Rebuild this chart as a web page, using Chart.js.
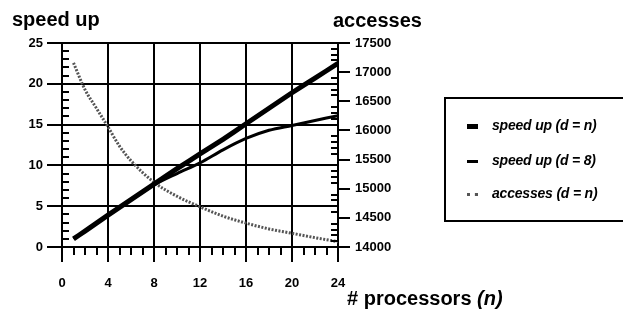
<!DOCTYPE html>
<html>
<head>
<meta charset="utf-8">
<script src="https://cdn.jsdelivr.net/npm/chart.js@4/dist/chart.umd.min.js"></script>
<style>
  body { margin: 0; background: #fff; font-family: "Liberation Sans", Arial, sans-serif; }
  #wrap { position: relative; width: 623px; height: 310px; overflow: hidden; }
  #legend {
    position: absolute; left: 444px; top: 97px; width: 240px; height: 121px;
    border: 2px solid #000; box-sizing: content-box;
  }
  .item { position: absolute; left: 21px; font: italic bold 14px "Liberation Sans", Arial, sans-serif; letter-spacing: -0.2px; }
  .sw { display: inline-block; width: 11px; margin-right: 14px; vertical-align: middle; }
</style>
</head>
<body>
<div id="wrap">
  <canvas id="myChart" width="623" height="310"></canvas>
  <div id="legend">
    <div class="item" style="top:18px"><span class="sw" style="border-top:5px solid #000"></span>speed up (d = n)</div>
    <div class="item" style="top:53px"><span class="sw" style="border-top:3px solid #000"></span>speed up (d = 8)</div>
    <div class="item" style="top:86px"><span class="sw" style="border-top:3px dotted #555"></span>accesses (d = n)</div>
  </div>
</div>
<script>
/* DONNEES */
const nSpeed = [1, 2, 4, 6, 8, 10, 12, 14, 16, 18, 20, 22, 24];
const speedUpN = [1.0, 1.95, 3.9, 5.8, 7.7, 9.6, 11.4, 13.2, 15.1, 17.0, 18.9, 20.7, 22.5];
const speedUp8 = [1.0, 1.95, 3.9, 5.8, 7.6, 9.0, 10.3, 11.9, 13.3, 14.3, 14.9, 15.5, 16.1];
const nAccess = [1, 2, 3, 4, 5, 6, 8, 10, 12, 14, 16, 18, 20, 22, 24];
const accesses = [17160, 16700, 16380, 16060, 15730, 15480, 15110, 14870, 14690, 14530, 14410, 14310, 14235, 14160, 14090];
const xTicks = [0, 4, 8, 12, 16, 20, 24];

const pts = (xs, ys) => xs.map((x, i) => ({ x: x, y: ys[i] }));
const FONT = { family: '"Liberation Sans", Arial, sans-serif', size: 13, weight: 'bold' };

/* petites graduations + titres */
const extras = {
  id: 'extras',
  afterDraw(chart) {
    const c = chart.ctx;
    const x = chart.scales.x, yl = chart.scales.y, yr = chart.scales.y2;
    c.save();
    c.strokeStyle = '#000';
    c.lineWidth = 2;
    c.beginPath();
    for (let n = 1; n < 24; n++) {
      if (n % 4 === 0) continue;
      const px = Math.round(x.getPixelForValue(n));
      c.moveTo(px, yl.bottom); c.lineTo(px, yl.bottom + 8);
    }
    for (let v = 1; v < 25; v++) {
      if (v % 5 === 0) continue;
      const py = Math.round(yl.getPixelForValue(v));
      c.moveTo(x.left, py); c.lineTo(x.left + 7, py);
    }
    for (let v = 14100; v < 17500; v += 100) {
      if (v % 500 === 0) continue;
      const py = Math.round(yr.getPixelForValue(v));
      c.moveTo(x.right, py); c.lineTo(x.right - 7, py);
    }
    c.stroke();
    c.fillStyle = '#000';
    c.textBaseline = 'alphabetic';
    c.font = 'bold 20px "Liberation Sans", Arial, sans-serif';
    c.fillText('speed up', 12, 26);
    c.fillText('accesses', 333, 27);
    const t = '# processors ';
    c.fillText(t, 347, 305);
    const w = c.measureText(t).width;
    c.font = 'italic bold 20px "Liberation Sans", Arial, sans-serif';
    c.fillText('(n)', 347 + w, 305);
    c.restore();
  }
};

var ctx = document.getElementById('myChart').getContext('2d');
var myChart = new Chart(ctx, {
  type: 'line',
  data: {
    datasets: [{
      label: 'speed up (d = n)',
      data: pts(nSpeed, speedUpN),
      borderColor: '#000',
      borderWidth: 5,
      pointRadius: 0,
      tension: 0.2,
      yAxisID: 'y'
    }, {
      label: 'speed up (d = 8)',
      data: pts(nSpeed, speedUp8),
      borderColor: '#000',
      borderWidth: 3,
      pointRadius: 0,
      cubicInterpolationMode: 'monotone',
      yAxisID: 'y'
    }, {
      label: 'accesses (d = n)',
      data: pts(nAccess, accesses),
      borderColor: '#555',
      borderWidth: 3,
      borderDash: [2, 1.5],
      pointRadius: 0,
      cubicInterpolationMode: 'monotone',
      yAxisID: 'y2'
    }]
  },
  options: {
    responsive: false,
    animation: false,
    layout: { padding: { top: 43, left: 0, right: 0, bottom: 0 } },
    plugins: { legend: { display: false }, tooltip: { enabled: false } },
    scales: {
      x: {
        type: 'linear', min: 0, max: 24,
        afterBuildTicks: s => { s.ticks = xTicks.map(v => ({ value: v })); },
        afterFit: s => { s.height = 63; },
        grid: { color: '#000', lineWidth: 2, tickLength: 15, tickColor: '#000' },
        border: { color: '#000', width: 2 },
        ticks: { color: '#000', font: FONT, padding: 14, maxRotation: 0 }
      },
      y: {
        position: 'left', min: 0, max: 25,
        afterFit: s => { s.width = 62; },
        grid: { color: '#000', lineWidth: 2, tickLength: 15, tickColor: '#000' },
        border: { color: '#000', width: 2 },
        ticks: { stepSize: 5, color: '#000', font: FONT, padding: 4 }
      },
      y2: {
        position: 'right', min: 14000, max: 17500,
        afterFit: s => { s.width = 285; },
        grid: { drawOnChartArea: false, lineWidth: 2, tickLength: 12, tickColor: '#000' },
        border: { color: '#000', width: 2 },
        ticks: { stepSize: 500, color: '#000', font: FONT, padding: 5, callback: v => String(v) }
      }
    }
  },
  plugins: [extras]
});
</script>
</body>
</html>
